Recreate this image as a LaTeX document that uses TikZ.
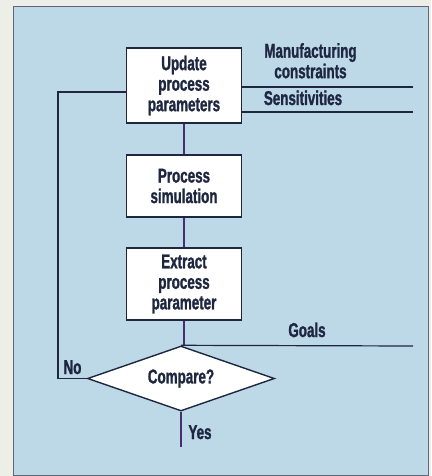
\documentclass[tikz,border=0pt]{standalone}
\usepackage{fontspec}
\setmainfont{Liberation Sans}[FakeStretch=0.67,BoldFeatures={FakeBold=1.2}]
\usetikzlibrary{shapes.geometric}
\definecolor{paper}{HTML}{EEEEE8}
\definecolor{panelblue}{HTML}{BDD9E8}
\definecolor{ink}{HTML}{1E2640}
\definecolor{flowline}{HTML}{45306E}

\begin{document}
\begin{tikzpicture}[x=1pt,y=-1pt,
  every node/.style={font=\bfseries\fontsize{20}{20.5}\selectfont,text=ink},
  stepbox/.style={draw=ink,line width=1.4pt,fill=white,minimum width=115pt,align=center,inner sep=2pt},
  decide/.style={diamond,draw=ink,line width=1.4pt,fill=white,aspect=2.9,inner sep=0pt,minimum width=187pt,minimum height=65pt},
  link/.style={draw=flowline,line width=1.2pt},
  feed/.style={draw=ink,line width=1.2pt}]
\useasboundingbox (0,0) rectangle (431,476);
\fill[paper] (0,0) rectangle (431,476);
\filldraw[fill=panelblue,draw=ink!70,line width=0.8pt] (13,6) rectangle (428,475);
% flow boxes
\node[stepbox,minimum height=75pt] (update) at (184,85.5) {Update\\process\\parameters};
\node[stepbox,minimum height=62pt] (sim) at (184,186) {Process\\simulation};
\node[stepbox,minimum height=72pt] (extract) at (184,284) {Extract\\process\\parameter};
\node[decide] (compare) at (181,378.5) {Compare?};
% free ends
\coordinate (yesend) at (181,447);
\coordinate (goalend) at (413,346);
\coordinate (mfgend) at (413,87);
\coordinate (sensend) at (413,112);
\coordinate (nocorner) at (58,92);
% labels
\node[anchor=base] (yes) at (200,439) {Yes};
\node[anchor=base] (no) at (72.5,374) {No};
\node[anchor=base] (goals) at (307,337) {Goals};
\node[align=center,anchor=north,inner sep=0pt] (mfg) at (310.5,43) {Manufacturing\\constraints};
\node[anchor=base] (sens) at (303,105) {Sensitivities};
% connectors
\draw[link] (update.south) -- (sim.north);
\draw[link] (sim.south) -- (extract.north);
\draw[link] (extract.south) -- (extract.south |- compare.north);
\draw[link] (compare.south) -- (yesend);
\draw[feed] (compare.north) -- (goalend);
\draw[feed] (mfgend) -- (mfgend -| update.east);
\draw[feed] (sensend) -- (sensend -| update.east);
\draw[feed] (compare.west) -- (compare.west -| nocorner) -- (nocorner) -- (nocorner -| update.west);
\end{tikzpicture}
\end{document}
